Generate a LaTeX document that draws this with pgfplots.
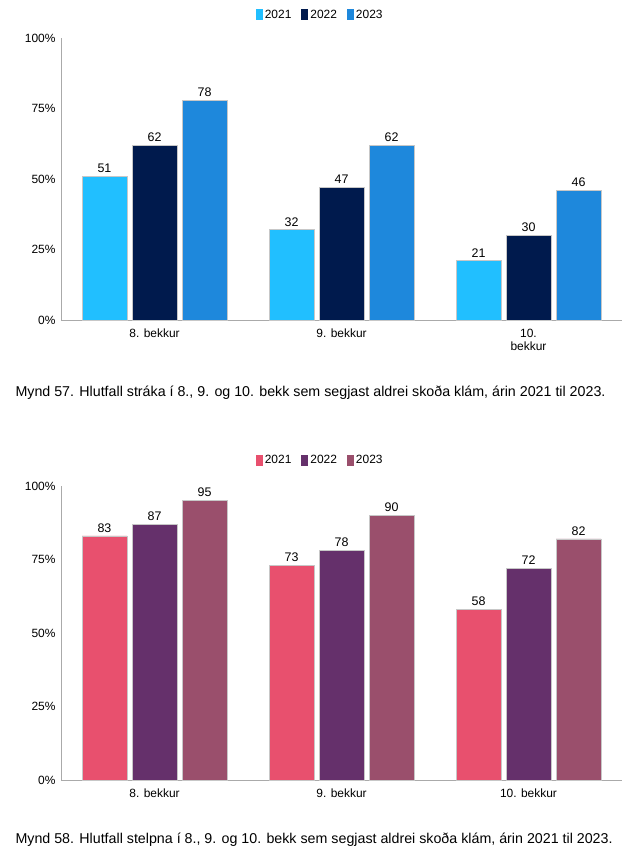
\documentclass[border=0pt]{standalone}
\usepackage{fontspec}
\setmainfont{Liberation Sans}
\usepackage{pgfplots}
\pgfplotsset{compat=1.18}
\definecolor{bA}{RGB}{33,191,255}
\definecolor{bB}{RGB}{0,26,77}
\definecolor{bC}{RGB}{30,136,220}
\definecolor{gA}{RGB}{232,80,110}
\definecolor{gB}{RGB}{101,48,107}
\definecolor{gC}{RGB}{154,79,108}
\definecolor{axgray}{RGB}{170,170,170}
\pgfplotsset{
  kl/.style={
    scale only axis, width=561bp,
    xmin=-0.5, xmax=2.5, ymin=0, ymax=100,
    axis x line*=bottom, axis y line*=left,
    axis line style={draw=axgray, line width=0.8pt},
    ytick={0,25,50,75,100}, yticklabels={0\%,25\%,50\%,75\%,100\%},
    ytick style={draw=none},
    xtick={0,1,2}, xtick style={draw=none},
    extra x ticks={-0.5,0.5,1.5,2.5}, extra x tick labels={},
    extra x tick style={tick align=outside, major tick length=6bp, tick style={draw=axgray, line width=0.8pt}},
    ybar, bar width=45bp,
    /pgf/number format/assume math mode=true,
    tick label style={font=\fontsize{12}{13.5}\selectfont},
    yticklabel style={xshift=-2bp},
    x tick label style={align=center, yshift=-1bp},
    nodes near coords,
    nodes near coords style={font=\fontsize{12.5}{14}\selectfont, text=black},
    legend style={draw=none, fill=none, legend columns=-1,
      font=\fontsize{12}{14}\selectfont,
      /tikz/every even column/.append style={column sep=8bp}},
    legend image code/.code={\path[#1,draw=none] (0bp,-5.5bp) rectangle (7bp,5.5bp);},
    every axis plot/.append style={draw=white!78!black, line width=0.6pt},
    clip=false,
  }
}
\begin{document}
\begin{tikzpicture}[x=1bp,y=1bp]
\useasboundingbox (0,0) rectangle (634,861);
\begin{axis}[kl, at={(61bp,541bp)}, anchor=south west, height=282bp,
  xticklabels={8. bekkur, 9. bekkur, {10.\\bekkur}},
  legend style={at={(0.462,1.082)}, anchor=center}]
\addplot[fill=bA, bar shift=-50bp] coordinates {(0,51) (1,32) (2,21)};
\addplot[fill=bB, bar shift=0bp] coordinates {(0,62) (1,47) (2,30)};
\addplot[fill=bC, bar shift=50bp] coordinates {(0,78) (1,62) (2,46)};
\legend{2021,2022,2023}
\end{axis}
\node[anchor=west, font=\fontsize{14.3}{16}\selectfont] at (12,468) {Mynd 57. Hlutfall stráka í 8., 9. og 10. bekk sem segjast aldrei skoða klám, árin 2021 til 2023.};
\begin{axis}[kl, at={(61bp,81bp)}, anchor=south west, height=294bp,
  xticklabels={8. bekkur, 9. bekkur, 10. bekkur},
  legend style={at={(0.462,1.088)}, anchor=center}]
\addplot[fill=gA, bar shift=-50bp] coordinates {(0,83) (1,73) (2,58)};
\addplot[fill=gB, bar shift=0bp] coordinates {(0,87) (1,78) (2,72)};
\addplot[fill=gC, bar shift=50bp] coordinates {(0,95) (1,90) (2,82)};
\legend{2021,2022,2023}
\end{axis}
\node[anchor=west, font=\fontsize{14.3}{16}\selectfont] at (12,21) {Mynd 58. Hlutfall stelpna í 8., 9. og 10. bekk sem segjast aldrei skoða klám, árin 2021 til 2023.};
\end{tikzpicture}
\end{document}
